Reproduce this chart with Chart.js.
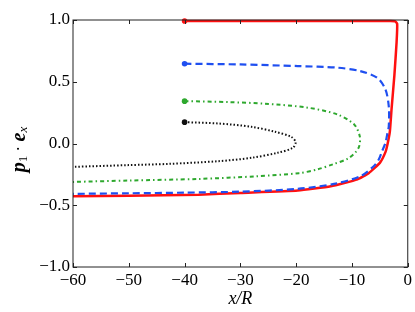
<!DOCTYPE html>
<html>
<head>
<meta charset="utf-8">
<script src="https://cdn.jsdelivr.net/npm/chart.js@4/dist/chart.umd.min.js"></script>
<style>
  html, body { margin: 0; padding: 0; background: #fff; }
</style>
</head>
<body>
<canvas id="orient" width="415" height="312"></canvas>
<script>
// trajectories, all start at x/R = -40
const redX   = [-40, -30, -20, -10, -4, -2.3, -1.9, -2.0, -2.4, -2.9, -3.2, -3.6, -4.0, -5.0, -7.0, -9.0, -13.8, -19.7, -30, -37.5, -50, -60];
const redY   = [0.992, 0.992, 0.992, 0.992, 0.991, 0.99, 0.97, 0.82, 0.55, 0.28, 0.1, 0.0, -0.07, -0.157, -0.24, -0.29, -0.346, -0.38, -0.40, -0.415, -0.423, -0.428];

const blueX  = [-40, -30, -19.7, -12.6, -8.5, -5.5, -4.0, -3.4, -3.4, -3.7, -4.0, -4.6, -5.2, -6.1, -8.5, -13.2, -19.7, -30, -40, -50, -60];
const blueY  = [0.646, 0.64, 0.627, 0.614, 0.586, 0.533, 0.438, 0.30, 0.14, 0.07, 0.005, -0.062, -0.13, -0.184, -0.265, -0.327, -0.367, -0.39, -0.398, -0.403, -0.408];

const greenX = [-40, -32, -25.6, -17.9, -12.6, -9.6, -8.6, -8.7, -9.35, -10.8, -13.2, -16.2, -19.5, -27, -37.5, -50, -60];
const greenY = [0.343, 0.335, 0.322, 0.29, 0.235, 0.154, 0.059, -0.022, -0.07, -0.124, -0.165, -0.21, -0.24, -0.265, -0.287, -0.30, -0.311];

const blackX = [-40, -33.9, -28, -23.8, -20.9, -20.1, -20.6, -23.3, -28, -33.9, -42.8, -50, -60];
const blackY = [0.173, 0.162, 0.135, 0.095, 0.054, 0.011, -0.035, -0.075, -0.116, -0.143, -0.165, -0.175, -0.189];

const xTicks = [-60, -50, -40, -30, -20, -10, 0];
const yTicks = [-1.0, -0.5, 0.0, 0.5, 1.0];

// y label pieces: text, font, baseline shift
const yLabel = [
    ['p', 'italic bold 20px', 0],
    ['1', '13px', 4],
    [' \u00b7 ', '17px', 0],
    ['e', 'italic bold 20px', 0],
    ['x', 'italic 13px', 4],
];

const serif = "'Liberation Serif', 'DejaVu Serif', serif";

function pts(xs, ys) {
    return xs.map((x, i) => ({ x: x, y: ys[i] }));
}

function minus(v, digits) {
    const s = Math.abs(v).toFixed(digits);
    return v < 0 ? '\u2212' + s : s;
}

function curve(label, xs, ys, color, dash, width, tension) {
    return {
        label: label,
        data: pts(xs, ys),
        showLine: true,
        borderColor: color,
        backgroundColor: color,
        borderWidth: width,
        borderDash: dash,
        tension: tension,
        pointRadius: (c) => (c.dataIndex === 0 ? 2.8 : 0), // start marker only
        pointBorderWidth: 0,
        clip: false,
    };
}

// matplotlib style frame with inward ticks on all four sides
const frame = {
    id: 'frame',
    afterDatasetsDraw(chart) {
        const { ctx, chartArea: a, scales: { x, y } } = chart;
        ctx.save();
        ctx.strokeStyle = '#222';
        ctx.lineWidth = 1;
        ctx.strokeRect(a.left, a.top, a.right - a.left, a.bottom - a.top);
        ctx.beginPath();
        x.ticks.forEach(t => {
            const px = Math.round(x.getPixelForValue(t.value)) + 0.5;
            ctx.moveTo(px, a.bottom); ctx.lineTo(px, a.bottom - 4);
            ctx.moveTo(px, a.top); ctx.lineTo(px, a.top + 4);
        });
        y.ticks.forEach(t => {
            const py = Math.round(y.getPixelForValue(t.value)) + 0.5;
            ctx.moveTo(a.left, py); ctx.lineTo(a.left + 4, py);
            ctx.moveTo(a.right, py); ctx.lineTo(a.right - 4, py);
        });
        ctx.stroke();

        // rotated y label with real subscripts
        let total = 0;
        yLabel.forEach(([t, f]) => { ctx.font = f + ' ' + serif; total += ctx.measureText(t).width; });
        ctx.translate(20, (a.top + a.bottom) / 2 + 6);
        ctx.rotate(-Math.PI / 2);
        ctx.fillStyle = '#000';
        ctx.textBaseline = 'middle';
        let cx = -total / 2;
        yLabel.forEach(([t, f, dy]) => {
            ctx.font = f + ' ' + serif;
            ctx.fillText(t, cx, dy);
            cx += ctx.measureText(t).width;
        });
        ctx.restore();
    },
};

const chart = new Chart(document.getElementById('orient').getContext('2d'), {
    type: 'scatter',
    data: {
        datasets: [
            curve('black', blackX, blackY, '#111111', [1.5, 2], 2, 0.3),
            curve('green', greenX, greenY, '#2ea82e', [4, 3, 1.5, 3], 2, 0.3),
            curve('blue', blueX, blueY, '#1f4ff0', [7, 4], 2.2, 0.3),
            curve('red', redX, redY, '#ff1010', [], 2.5, 0.15),
        ],
    },
    options: {
        responsive: false,
        animation: false,
        devicePixelRatio: 1,
        layout: { padding: { top: 20, right: 4, bottom: 0, left: 0 } },
        plugins: {
            legend: { display: false },
            tooltip: { enabled: false },
        },
        scales: {
            x: {
                type: 'linear',
                min: -60,
                max: 0,
                grid: { display: false, drawTicks: false },
                border: { display: false },
                afterBuildTicks: (s) => { s.ticks = xTicks.map(v => ({ value: v })); },
                afterFit: (s) => { s.height = 45; },
                ticks: {
                    padding: 3,
                    color: '#000',
                    font: { family: serif, size: 17 },
                    callback: (v) => minus(v, 0),
                },
                title: {
                    display: true,
                    text: 'x/R',
                    color: '#000',
                    font: { family: serif, size: 18, style: 'italic' },
                    padding: { top: 0, bottom: 2 },
                },
            },
            y: {
                type: 'linear',
                min: -1,
                max: 1,
                grid: { display: false, drawTicks: false },
                border: { display: false },
                afterBuildTicks: (s) => { s.ticks = yTicks.map(v => ({ value: v })); },
                afterFit: (s) => { s.width = 73; },
                ticks: {
                    padding: 3,
                    color: '#000',
                    font: { family: serif, size: 17 },
                    callback: (v) => minus(v, 1),
                },
            },
        },
    },
    plugins: [frame],
});
</script>
</body>
</html>
